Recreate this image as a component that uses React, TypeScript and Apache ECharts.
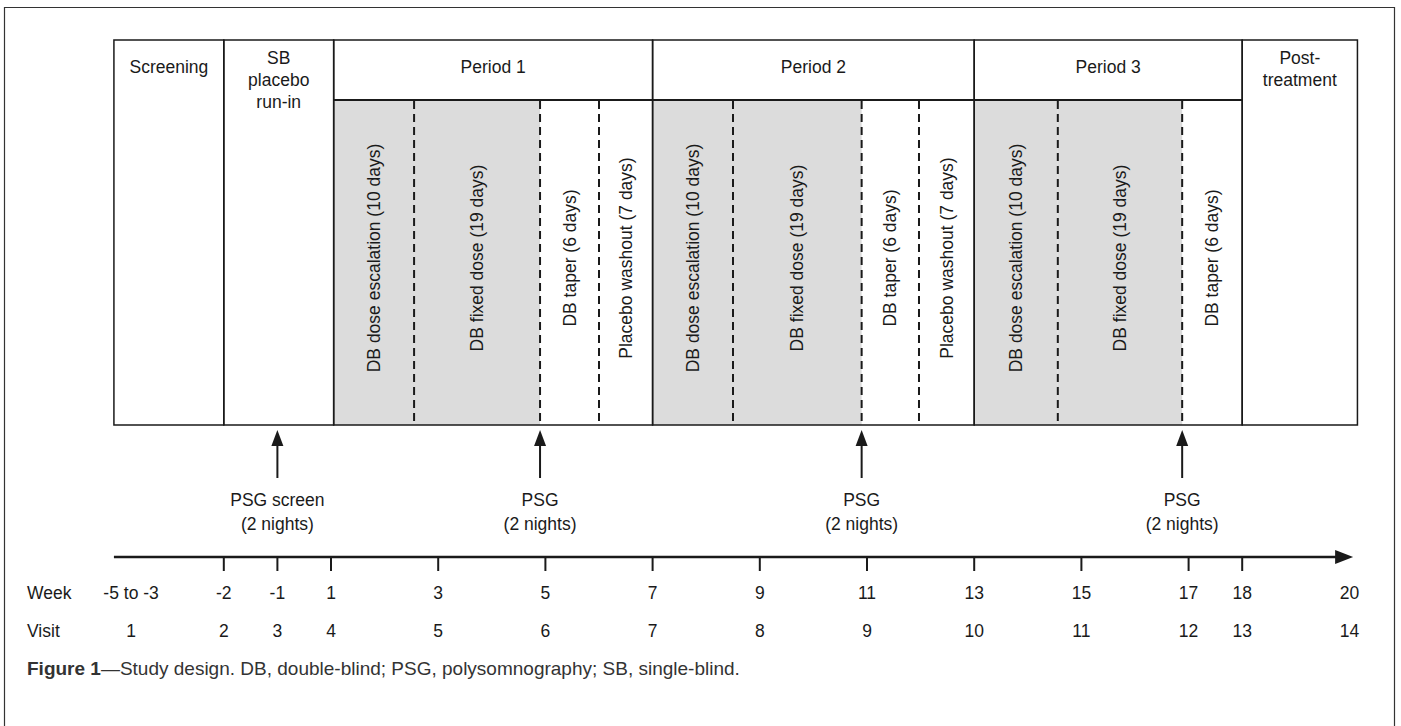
import React, { useEffect, useRef } from "react";
import * as echarts from "echarts";

const FONT = '"Liberation Sans", Arial, Helvetica, sans-serif';
const FS = 17.5;
const INK = "#1a1a1a";

// x positions are in "week slots": slot = week for week >= 1, week + 1 for negative weeks
const phaseNames = ["Screening", "SB\nplacebo\nrun-in", "Period 1", "Period 2", "Period 3", "Post-\ntreatment"];
const phaseStart = [-3.05, -1, 1.05, 7, 13, 18];
const phaseEnd = [-1, 1.05, 7, 13, 18, 20.15];
const phaseHasSub = [false, false, true, true, true, false];

const subLabels = [
  "DB dose escalation (10 days)", "DB fixed dose (19 days)", "DB taper (6 days)", "Placebo washout (7 days)",
  "DB dose escalation (10 days)", "DB fixed dose (19 days)", "DB taper (6 days)", "Placebo washout (7 days)",
  "DB dose escalation (10 days)", "DB fixed dose (19 days)", "DB taper (6 days)",
];
const subStart = [1.05, 2.55, 4.9, 6.0, 7, 8.5, 10.9, 11.97, 13, 14.56, 16.88];
const subEnd = [2.55, 4.9, 6.0, 7, 8.5, 10.9, 11.97, 13, 14.56, 16.88, 18];
const subShaded = [true, true, false, false, true, true, false, false, true, true, false];
const dashedAt = [2.55, 4.9, 6.0, 8.5, 10.9, 11.97, 14.56, 16.88];

const psgSlots = [0, 4.9, 10.9, 16.88];
const psgLabels = ["PSG screen\n(2 nights)", "PSG\n(2 nights)", "PSG\n(2 nights)", "PSG\n(2 nights)"];

const weekLabels = ["-5 to -3", "-2", "-1", "1", "3", "5", "7", "9", "11", "13", "15", "17", "18", "20"];
const visitLabels = ["1", "2", "3", "4", "5", "6", "7", "8", "9", "10", "11", "12", "13", "14"];
const labelSlots = [-2.73, -1, 0, 1, 3, 5, 7, 9, 11, 13, 15, 17, 18, 20];
const tickSlots = [-1, 0, 1, 3, 5, 7, 9, 11, 13, 15, 17, 18];
const axisStart = -3.05;
const axisEnd = 20.07;

// vertical layout (px)
const Y = {
  tableTop: 40, headerLine: 100, tableBottom: 425, subText: 258,
  arrowTip: 430, arrowTail: 478, psgText: 500,
  axis: 557, tickEnd: 571, week: 593, visit: 631, caption: 668,
};

export default function App() {
  const ref = useRef<HTMLDivElement>(null);
  useEffect(() => {
    if (!ref.current) return;
    const chart = echarts.init(ref.current, null, { renderer: "svg" });
    const textStyle = (t: string, extra: any = {}) => ({
      text: t, fill: INK, font: `${FS}px ${FONT}`, align: "center", verticalAlign: "middle", lineHeight: 22, ...extra,
    });

    const option: any = {
      animation: false,
      backgroundColor: "#fff",
      grid: { left: 9.4, right: 51.6, top: 0, bottom: 0 },
      xAxis: { type: "value", min: -5, max: 20, show: false },
      yAxis: { type: "value", min: 0, max: 726, inverse: true, show: false },
      graphic: [
        { type: "rect", shape: { x: 4.5, y: 7.5, width: 1390, height: 740 }, style: { fill: "none", stroke: "#333", lineWidth: 1.2 }, z: 0 },
        {
          type: "text", x: 27, y: Y.caption,
          style: {
            text: "{b|Figure 1}—Study design. DB, double-blind; PSG, polysomnography; SB, single-blind.",
            fill: "#333", font: `19px ${FONT}`, verticalAlign: "middle",
            rich: { b: { fontWeight: "bold", fontSize: 19, fontFamily: FONT, fill: "#333" } },
          },
        },
      ],
      series: [
        // shaded sub-phase cells and their rotated labels
        {
          type: "custom", coordinateSystem: "cartesian2d",
          data: subLabels.map((l, i) => [subStart[i], subEnd[i], subShaded[i] ? 1 : 0, i]),
          renderItem: (params: any, api: any) => {
            const i = api.value(3);
            const p0 = api.coord([api.value(0), Y.headerLine]);
            const p1 = api.coord([api.value(1), Y.tableBottom]);
            const children: any[] = [];
            if (api.value(2)) {
              children.push({ type: "rect", shape: { x: p0[0], y: p0[1], width: p1[0] - p0[0], height: p1[1] - p0[1] }, style: { fill: "#dcdcdc" } });
            }
            children.push({
              type: "text", x: (p0[0] + p1[0]) / 2, y: Y.subText, rotation: Math.PI / 2,
              style: textStyle(subLabels[i]),
            });
            return { type: "group", children };
          },
        },
        // phase boxes
        {
          type: "custom", coordinateSystem: "cartesian2d",
          data: phaseNames.map((n, i) => [phaseStart[i], phaseEnd[i], phaseHasSub[i] ? 1 : 0, i]),
          renderItem: (params: any, api: any) => {
            const i = api.value(3);
            const p0 = api.coord([api.value(0), Y.tableTop]);
            const p1 = api.coord([api.value(1), Y.tableBottom]);
            const ph = api.coord([api.value(0), Y.headerLine]);
            const children: any[] = [
              { type: "rect", shape: { x: p0[0], y: p0[1], width: p1[0] - p0[0], height: p1[1] - p0[1] }, style: { fill: "none", stroke: INK, lineWidth: 1.5 } },
            ];
            if (api.value(2)) {
              children.push({ type: "line", shape: { x1: p0[0], y1: ph[1], x2: p1[0], y2: ph[1] }, style: { stroke: INK, lineWidth: 2 } });
            }
            const lines = phaseNames[i].split("\n").length;
            const cy = lines === 1 ? 67 : 58 + (lines - 1) * 11;
            children.push({ type: "text", x: (p0[0] + p1[0]) / 2, y: cy, style: textStyle(phaseNames[i]) });
            return { type: "group", children };
          },
        },
        // dashed separators
        {
          type: "custom", coordinateSystem: "cartesian2d",
          data: dashedAt.map((x) => [x]),
          renderItem: (params: any, api: any) => {
            const a = api.coord([api.value(0), Y.headerLine + 1]);
            const b = api.coord([api.value(0), Y.tableBottom]);
            return { type: "line", shape: { x1: a[0], y1: a[1], x2: b[0], y2: b[1] }, style: { stroke: INK, lineWidth: 2, lineDash: [8, 5] } };
          },
        },
        // PSG arrows
        {
          type: "custom", coordinateSystem: "cartesian2d",
          data: psgSlots.map((x, i) => [x, i]),
          renderItem: (params: any, api: any) => {
            const i = api.value(1);
            const tip = api.coord([api.value(0), Y.arrowTip]);
            const tail = api.coord([api.value(0), Y.arrowTail]);
            const x = tip[0];
            return {
              type: "group",
              children: [
                { type: "line", shape: { x1: x, y1: tip[1] + 10, x2: x, y2: tail[1] }, style: { stroke: INK, lineWidth: 2 } },
                { type: "polygon", shape: { points: [[x, tip[1]], [x - 6, tip[1] + 16], [x + 6, tip[1] + 16]] }, style: { fill: INK } },
                { type: "text", x, y: Y.psgText + 12, style: textStyle(psgLabels[i], { lineHeight: 24 }) },
              ],
            };
          },
        },
        // timeline
        {
          type: "custom", coordinateSystem: "cartesian2d",
          data: [[axisStart, axisEnd]],
          renderItem: (params: any, api: any) => {
            const a = api.coord([api.value(0), Y.axis]);
            const b = api.coord([api.value(1), Y.axis]);
            return {
              type: "group",
              children: [
                { type: "line", shape: { x1: a[0], y1: a[1], x2: b[0] - 14, y2: b[1] }, style: { stroke: INK, lineWidth: 2.5 } },
                { type: "polygon", shape: { points: [[b[0], b[1]], [b[0] - 18, b[1] - 7], [b[0] - 18, b[1] + 7]] }, style: { fill: INK } },
              ],
            };
          },
        },
        // ticks
        {
          type: "custom", coordinateSystem: "cartesian2d",
          data: tickSlots.map((x) => [x]),
          renderItem: (params: any, api: any) => {
            const a = api.coord([api.value(0), Y.axis]);
            const b = api.coord([api.value(0), Y.tickEnd]);
            return { type: "line", shape: { x1: a[0], y1: a[1], x2: b[0], y2: b[1] }, style: { stroke: INK, lineWidth: 2 } };
          },
        },
        // week + visit labels
        {
          type: "custom", coordinateSystem: "cartesian2d",
          data: labelSlots.map((x, i) => [x, i]),
          renderItem: (params: any, api: any) => {
            const i = api.value(1);
            const w = api.coord([api.value(0), Y.week]);
            const v = api.coord([api.value(0), Y.visit]);
            return {
              type: "group",
              children: [
                { type: "text", x: w[0], y: w[1], style: textStyle(weekLabels[i]) },
                { type: "text", x: v[0], y: v[1], style: textStyle(visitLabels[i]) },
              ],
            };
          },
        },
        // row titles
        {
          type: "custom", coordinateSystem: "cartesian2d",
          data: [[Y.week, 0], [Y.visit, 1]],
          renderItem: (params: any, api: any) => {
            const p = api.coord([-5, api.value(0)]);
            return { type: "text", x: 27, y: p[1], style: textStyle(api.value(1) === 0 ? "Week" : "Visit", { align: "left" }) };
          },
        },
      ],
    };
    chart.setOption(option);
    return () => chart.dispose();
  }, []);
  return <div ref={ref} style={{ position: "fixed", left: 0, top: 0, width: 1401, height: 726 }} />;
}
